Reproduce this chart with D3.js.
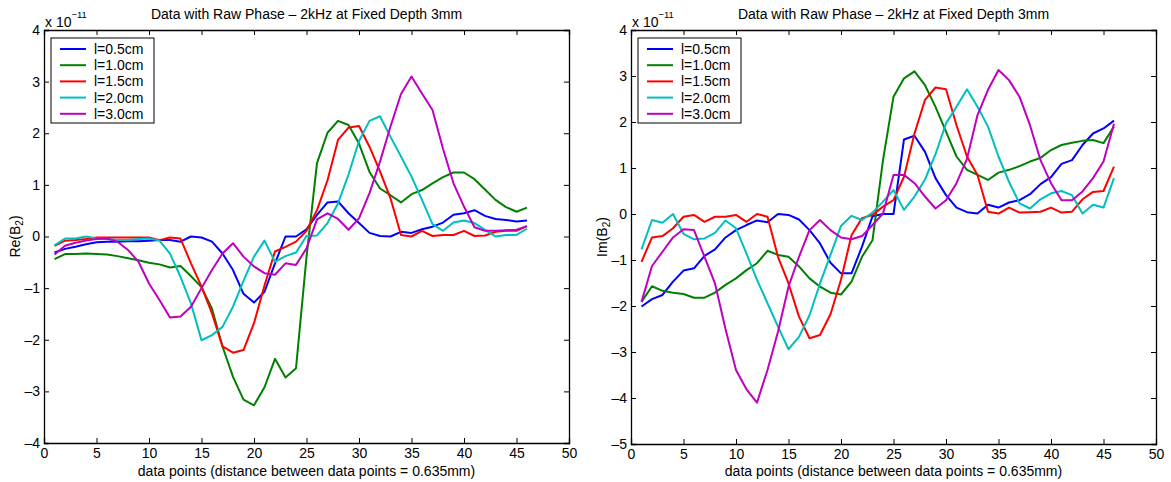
<!DOCTYPE html>
<html>
<head>
<meta charset="utf-8">
<script src="https://cdn.jsdelivr.net/npm/d3@7"></script>
<style>
  body { margin: 0; background: #fff; }
  text { font-family: "Liberation Sans", Arial, sans-serif; }
</style>
</head>
<body>
<svg id="chart" width="1171" height="482"></svg>
<script>
// series names and colours (legend order)
var seriesNames = ["l=0.5cm", "l=1.0cm", "l=1.5cm", "l=2.0cm", "l=3.0cm"];
var seriesColors = ["#0000ff", "#008000", "#ff0000", "#00bfbf", "#bf00bf"];

// data point index 1..46
var points = d3.range(1, 47);

// left panel: Re(B2), units of 1e-11
var re05 = [-0.31,-0.24,-0.2,-0.15,-0.11,-0.1,-0.1,-0.09,-0.09,-0.08,-0.07,-0.07,-0.1,0.0,-0.02,-0.1,-0.33,-0.65,-1.11,-1.28,-1.07,-0.52,0.0,0.0,0.14,0.42,0.66,0.68,0.45,0.26,0.07,0.01,0.0,0.09,0.07,0.14,0.19,0.27,0.42,0.45,0.51,0.4,0.34,0.32,0.29,0.31];
var re10 = [-0.44,-0.34,-0.34,-0.33,-0.34,-0.35,-0.38,-0.42,-0.46,-0.51,-0.54,-0.6,-0.57,-0.77,-0.98,-1.4,-2.13,-2.72,-3.16,-3.27,-2.92,-2.37,-2.73,-2.55,-0.4,1.42,2.01,2.24,2.16,1.8,1.25,0.93,0.8,0.66,0.82,0.9,1.03,1.15,1.24,1.24,1.11,0.91,0.71,0.57,0.48,0.56];
var re15 = [-0.18,-0.08,-0.07,-0.05,-0.02,-0.02,-0.02,-0.02,-0.02,-0.02,-0.07,-0.02,-0.04,-0.52,-0.97,-1.49,-2.13,-2.25,-2.2,-1.68,-0.95,-0.29,-0.2,-0.1,0.11,0.51,1.09,1.87,2.11,2.14,1.74,1.26,0.74,0.03,0.0,0.11,0.01,0.03,0.03,0.11,0.01,0.02,0.09,0.11,0.11,0.2];
var re20 = [-0.17,-0.04,-0.04,0.0,-0.04,-0.05,-0.07,-0.07,-0.05,-0.04,-0.08,-0.33,-0.78,-1.3,-2.01,-1.91,-1.75,-1.36,-0.86,-0.39,-0.08,-0.49,-0.38,-0.31,0.01,0.02,0.26,0.64,1.2,1.85,2.24,2.33,1.93,1.55,1.16,0.71,0.24,0.11,0.27,0.31,0.26,0.13,0.0,0.03,0.03,0.15];
var re30 = [-0.35,-0.18,-0.12,-0.08,-0.05,-0.04,-0.1,-0.26,-0.49,-0.91,-1.23,-1.57,-1.55,-1.36,-1.0,-0.65,-0.33,-0.13,-0.39,-0.58,-0.71,-0.74,-0.52,-0.55,-0.23,0.33,0.45,0.34,0.13,0.35,0.84,1.45,2.13,2.76,3.1,2.77,2.45,1.7,1.03,0.58,0.18,0.11,0.11,0.12,0.13,0.2];

// right panel: Im(B2), units of 1e-11
var im05 = [-2.01,-1.85,-1.76,-1.47,-1.23,-1.18,-0.91,-0.77,-0.51,-0.35,-0.24,-0.14,-0.18,0.0,-0.02,-0.12,-0.35,-0.64,-1.06,-1.29,-1.29,-0.71,-0.05,0.0,0.0,1.62,1.7,1.35,0.78,0.41,0.14,0.04,0.01,0.2,0.14,0.25,0.3,0.43,0.65,0.8,1.09,1.17,1.5,1.75,1.86,2.03];
var im10 = [-1.91,-1.57,-1.67,-1.71,-1.74,-1.82,-1.82,-1.71,-1.54,-1.4,-1.22,-1.07,-0.8,-0.89,-0.93,-1.14,-1.4,-1.58,-1.71,-1.75,-1.47,-0.93,-0.57,1.17,2.55,2.95,3.1,2.8,2.33,1.79,1.25,0.96,0.85,0.74,0.9,0.96,1.04,1.14,1.22,1.39,1.5,1.55,1.59,1.61,1.54,1.9];
var im15 = [-1.04,-0.51,-0.48,-0.31,-0.06,-0.02,-0.17,-0.06,-0.06,-0.02,-0.17,0.0,-0.06,-0.93,-1.51,-2.23,-2.7,-2.63,-2.18,-1.43,-0.46,-0.09,-0.02,0.16,0.3,0.81,1.75,2.48,2.75,2.71,1.93,1.25,0.85,0.05,0.01,0.14,0.03,0.04,0.05,0.14,0.03,0.05,0.32,0.48,0.5,1.03];
var im20 = [-0.77,-0.13,-0.19,0.0,-0.43,-0.55,-0.53,-0.41,-0.14,-0.31,-0.86,-1.43,-1.94,-2.45,-2.94,-2.67,-2.2,-1.51,-0.89,-0.26,-0.04,-0.13,0.03,0.27,0.52,0.09,0.38,0.75,1.3,1.97,2.33,2.71,2.33,1.9,1.25,0.7,0.23,0.12,0.32,0.45,0.5,0.41,0.01,0.2,0.14,0.78];
var im30 = [-1.91,-1.13,-0.82,-0.51,-0.33,-0.35,-0.93,-1.51,-2.5,-3.39,-3.81,-4.1,-3.39,-2.56,-1.58,-0.93,-0.35,-0.13,-0.35,-0.51,-0.55,-0.48,-0.24,0.01,0.85,0.85,0.67,0.38,0.12,0.3,0.67,1.2,2.15,2.7,3.13,2.91,2.55,1.93,1.17,0.67,0.3,0.3,0.49,0.78,1.14,1.96];

var titleText = "Data with Raw Phase \u2013 2kHz at Fixed Depth 3mm";
var xLabelText = "data points (distance between data points = 0.635mm)";
var xTicks = [0, 5, 10, 15, 20, 25, 30, 35, 40, 45, 50];
var leftYTicks = [-4, -3, -2, -1, 0, 1, 2, 3, 4];
var rightYTicks = [-5, -4, -3, -2, -1, 0, 1, 2, 3, 4];

var svg = d3.select("#chart");
var fs = 14;

function drawPanel(p) {
  var x = d3.scaleLinear().domain([0, 50]).range([p.left, p.right]);
  var y = d3.scaleLinear().domain(p.yDomain).range([p.bottom, p.top]);
  var g = svg.append("g");

  // title
  g.append("text")
    .attr("x", (p.left + p.right) / 2).attr("y", 19)
    .attr("text-anchor", "middle").attr("font-size", fs)
    .text(titleText);

  // exponent label
  var ex = g.append("text").attr("x", p.left + 1).attr("y", 27).attr("font-size", fs);
  ex.append("tspan").text("x 10");
  ex.append("tspan").attr("dy", -9).attr("font-size", 9.5).text("\u221211");

  // lines
  var line = d3.line()
    .x(function(d, i) { return x(points[i]); })
    .y(function(d) { return y(d); });

  p.series.forEach(function(s, k) {
    g.append("path")
      .datum(s)
      .attr("fill", "none")
      .attr("stroke", seriesColors[k])
      .attr("stroke-width", 2)
      .attr("stroke-linejoin", "round")
      .attr("d", line);
  });

  // axes (inward ticks, matlab style)
  var fmt = function(d) { return d < 0 ? "\u2013" + (-d) : String(d); };
  g.append("g")
    .attr("transform", "translate(0," + p.bottom + ")")
    .call(d3.axisBottom(x).tickValues(xTicks).tickSize(-5).tickPadding(5).tickFormat(fmt))
    .call(styleAxis);
  g.append("g")
    .attr("transform", "translate(0," + p.top + ")")
    .call(d3.axisTop(x).tickValues(xTicks).tickSize(-5).tickFormat(""))
    .call(styleAxis);
  g.append("g")
    .attr("transform", "translate(" + p.left + ",0)")
    .call(d3.axisLeft(y).tickValues(p.yTicks).tickSize(-5).tickPadding(4).tickFormat(fmt))
    .call(styleAxis);
  g.append("g")
    .attr("transform", "translate(" + p.right + ",0)")
    .call(d3.axisRight(y).tickValues(p.yTicks).tickSize(-5).tickFormat(""))
    .call(styleAxis);

  // x label
  g.append("text")
    .attr("x", (p.left + p.right) / 2).attr("y", 476)
    .attr("text-anchor", "middle").attr("font-size", fs)
    .text(xLabelText);

  // y label
  var yl = g.append("text")
    .attr("transform", "translate(" + (p.left - 24) + "," + ((p.top + p.bottom) / 2) + ") rotate(-90)")
    .attr("text-anchor", "middle").attr("font-size", fs);
  yl.append("tspan").text(p.yName + "(B");
  yl.append("tspan").attr("dy", 3).attr("font-size", 10).text("2");
  yl.append("tspan").attr("dy", -3).text(")");

  // legend
  var lx = p.left + 7, ly = 38;
  g.append("rect")
    .attr("x", lx).attr("y", ly).attr("width", 103).attr("height", 85)
    .attr("fill", "#fff").attr("stroke", "#000").attr("stroke-width", 1);
  seriesNames.forEach(function(name, k) {
    var yy = ly + 11 + k * 16.2;
    g.append("line")
      .attr("x1", lx + 9).attr("x2", lx + 35).attr("y1", yy).attr("y2", yy)
      .attr("stroke", seriesColors[k]).attr("stroke-width", 2);
    g.append("text")
      .attr("x", lx + 43).attr("y", yy + 5).attr("font-size", fs)
      .text(name);
  });
}

function styleAxis(sel) {
  sel.select(".domain").attr("stroke", "#000").attr("stroke-width", 1.3);
  sel.selectAll(".tick line").attr("stroke", "#000");
  sel.selectAll(".tick text").attr("font-size", fs).attr("fill", "#000")
    .attr("font-family", "Liberation Sans, Arial, sans-serif");
}

drawPanel({
  left: 44, right: 569, top: 30, bottom: 443,
  yDomain: [-4, 4], yTicks: leftYTicks, yName: "Re",
  series: [re05, re10, re15, re20, re30]
});
drawPanel({
  left: 631, right: 1156, top: 30, bottom: 444,
  yDomain: [-5, 4], yTicks: rightYTicks, yName: "Im",
  series: [im05, im10, im15, im20, im30]
});
</script>
</body>
</html>
